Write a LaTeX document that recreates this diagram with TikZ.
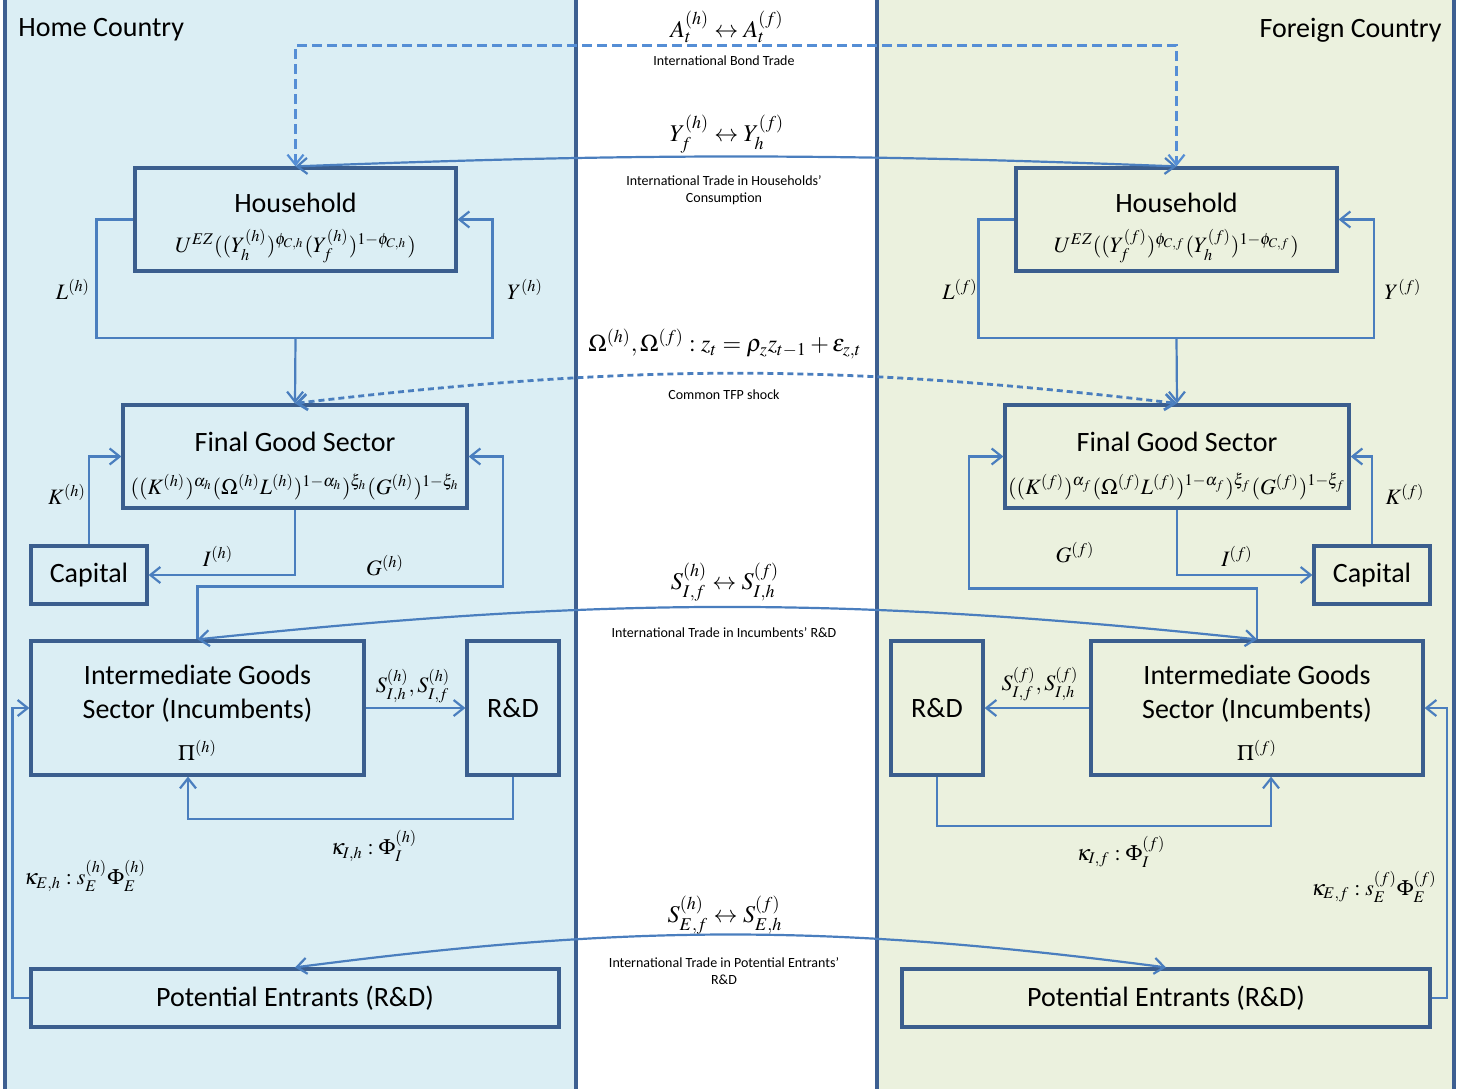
\documentclass[tikz,border=0pt]{standalone}
\usepackage{mathptmx}
\usepackage[no-math]{fontspec}
\setmainfont{Carlito}
\usetikzlibrary{arrows.meta}
\definecolor{homebg}{RGB}{219,238,244}
\definecolor{forbg}{RGB}{235,241,222}
\definecolor{panelline}{RGB}{61,95,145}
\definecolor{boxline}{RGB}{59,94,142}
\definecolor{flowline}{RGB}{74,126,190}
\definecolor{bondline}{RGB}{85,142,213}
\tikzstyle{panel}=[draw=panelline, line width=1.8pt]
\tikzstyle{sector}=[draw=boxline, line width=1.6pt, inner sep=0pt, align=center, font=\fontsize{14}{17}\selectfont]
\tikzstyle{flow}=[draw=flowline, line width=1.1pt, -{Straight Barb[length=5pt, width=8pt]}]
\tikzstyle{trade}=[flow, {Straight Barb[length=5pt, width=8pt]}-{Straight Barb[length=5pt, width=8pt]}]
\tikzstyle{mlabel}=[inner sep=0pt, font=\fontsize{11}{13}\selectfont]
\tikzstyle{tradeeq}=[inner sep=0pt, font=\fontsize{12}{14}\selectfont]
\tikzstyle{tlabel}=[inner sep=0pt, align=center, font=\fontsize{7}{8.5}\selectfont]
\tikzstyle{country}=[inner sep=0pt, font=\fontsize{14}{17}\selectfont]

\begin{document}
\begin{tikzpicture}[x=0.5pt, y=-0.5pt]
        \useasboundingbox (0,0) rectangle (1478,1088);
        \fill[homebg] (5,-10) rectangle (576,1098);
        \fill[forbg] (877,-10) rectangle (1454,1098);
        \draw[panel] (5,-10) rectangle (576,1098);
        \draw[panel] (877,-10) rectangle (1454,1098);
        \node[country, anchor=west] (homename) at (18,30) {Home Country};
        \node[country, anchor=east] (forname) at (1442,30) {Foreign Country};

        \node[sector, minimum width=160.5pt, minimum height=51.5pt] (hhh) at (295.5,219.5) {\rule{0pt}{18.5pt}Household\\[3pt] {\fontsize{11}{13}\selectfont$U^{EZ}((Y_h^{(h)})^{\phi_{C,h}}(Y_f^{(h)})^{1-\phi_{C,h}})$}};
        \node[sector, minimum width=160.5pt, minimum height=51.5pt] (fhh) at (1176.5,219.5) {\rule{0pt}{18.5pt}Household\\[3pt] {\fontsize{11}{13}\selectfont$U^{EZ}((Y_f^{(f)})^{\phi_{C,f}}(Y_h^{(f)})^{1-\phi_{C,f}})$}};
        \node[sector, minimum width=172pt, minimum height=51.5pt] (hfin) at (295,456.5) {\rule{0pt}{19pt}Final Good Sector\\[4.5pt] {\fontsize{11}{13}\selectfont$((K^{(h)})^{\alpha_h}(\Omega^{(h)}L^{(h)})^{1-\alpha_h})^{\xi_h}(G^{(h)})^{1-\xi_h}$}};
        \node[sector, minimum width=172pt, minimum height=51.5pt] (ffin) at (1177,456.5) {\rule{0pt}{19pt}Final Good Sector\\[4.5pt] {\fontsize{11}{13}\selectfont$((K^{(f)})^{\alpha_f}(\Omega^{(f)}L^{(f)})^{1-\alpha_f})^{\xi_f}(G^{(f)})^{1-\xi_f}$}};
        \node[sector, minimum width=58pt, minimum height=29pt] (hcap) at (89,575) {Capital};
        \node[sector, minimum width=58pt, minimum height=29pt] (fcap) at (1372,575) {Capital};
        \node[sector, minimum width=166.5pt, minimum height=67pt] (him) at (197.5,708) {\rule{0pt}{14.9pt}Intermediate Goods\\ \strut Sector (Incumbents)\\[4pt] {\fontsize{11}{13}\selectfont$\Pi^{(h)}$}};
        \node[sector, minimum width=166pt, minimum height=67pt] (fim) at (1257,708) {\rule{0pt}{14.9pt}Intermediate Goods\\ \strut Sector (Incumbents)\\[4pt] {\fontsize{11}{13}\selectfont$\Pi^{(f)}$}};
        \node[sector, minimum width=46pt, minimum height=67pt] (hrd) at (513,708) {R\&D};
        \node[sector, minimum width=46pt, minimum height=67pt] (frd) at (937,708) {R\&D};
        \node[sector, minimum width=264pt, minimum height=29pt] (hpe) at (295,998) {Potential Entrants (R\&D)};
        \node[sector, minimum width=264pt, minimum height=29pt] (fpe) at (1166,998) {Potential Entrants (R\&D)};

        \coordinate (hloop) at (295.5,338);
        \coordinate (floop) at (1176.5,338);
        \draw[flow, -] (hhh.west) -- ++(-37,0) |- (hloop);
        \draw[flow] (hloop) -- ++(197,0) |- (hhh.east);
        \draw[flow] (hloop) -- (hfin.north);
        \draw[flow, -] (fhh.west) -- ++(-36,0) |- (floop);
        \draw[flow] (floop) -- ++(197.5,0) |- (fhh.east);
        \draw[flow] (floop) -- (ffin.north);

        \draw[flow] (hcap.north) |- (hfin.west);
        \draw[flow] (hfin.south) |- (hcap.east);
        \draw[flow] (him.north) |- ++(305.5,-53) |- (hfin.east);
        \draw[flow] (him.east) -- (hrd.west);
        \draw[flow] (hrd.south) -- ++(0,42) -| ([xshift=-4.75pt]him.south);
        \draw[flow] (hpe.west) -- ++(-17,0) |- (him.west);

        \draw[flow] (fcap.north) |- (ffin.east);
        \draw[flow] (ffin.south) |- (fcap.west);
        \draw[flow] (fim.north) |- ++(-288,-51) |- (ffin.west);
        \draw[flow] (fim.west) -- (frd.east);
        \draw[flow] (frd.south) -- ++(0,49) -| ([xshift=7pt]fim.south);
        \draw[flow] (fpe.east) -- ++(15,0) |- (fim.east);

        \draw[trade, draw=bondline, line width=1.1pt, dash pattern=on 5pt off 2.5pt] (hhh.north) -- ++(0,-121) -| (fhh.north);
        \draw[trade] (hhh.north) to[bend left=2.2] (fhh.north);
        \draw[trade, line width=1.4pt, dash pattern=on 3pt off 2pt] (hfin.north) to[bend left=6.7] (ffin.north);
        \draw[trade] (him.north) to[bend left=6] (fim.north);
        \draw[trade] (hpe.north) to[bend left=7.4] (fpe.north);

        \node[tradeeq] (bondeq) at (727,27) {$A_t^{(h)}\leftrightarrow A_t^{(f)}$};
        \node[tlabel] (bondtxt) at (724,61) {International Bond Trade};
        \node[tradeeq] (conseq) at (727,134) {$Y_f^{(h)}\leftrightarrow Y_h^{(f)}$};
        \node[tlabel] (constxt) at (724,190) {International Trade in Households’\\Consumption};
        \node[tradeeq] (tfpeq) at (725,344) {$\Omega^{(h)},\Omega^{(f)}: z_t=\rho_z z_{t-1}+\varepsilon_{z,t}$};
        \node[tlabel] (tfptxt) at (724,395) {Common TFP shock};
        \node[tradeeq] (inceq) at (725,582) {$S_{I,f}^{(h)}\leftrightarrow S_{I,h}^{(f)}$};
        \node[tlabel] (inctxt) at (724,633) {International Trade in Incumbents’ R\&D};
        \node[tradeeq] (enteq) at (725,915) {$S_{E,f}^{(h)}\leftrightarrow S_{E,h}^{(f)}$};
        \node[tlabel] (enttxt) at (724,971) {International Trade in Potential Entrants’\\R\&D};

        \node[mlabel] (hL) at (73,289) {$L^{(h)}$};
        \node[mlabel] (hY) at (525,289) {$Y^{(h)}$};
        \node[mlabel] (hK) at (67,494) {$K^{(h)}$};
        \node[mlabel] (hI) at (218,556) {$I^{(h)}$};
        \node[mlabel] (hG) at (385,566) {$G^{(h)}$};
        \node[mlabel] (hS) at (413,686) {$S_{I,h}^{(h)},S_{I,f}^{(h)}$};
        \node[mlabel] (hkI) at (374,846) {$\kappa_{I,h}:\Phi_I^{(h)}$};
        \node[mlabel] (hkE) at (85,876) {$\kappa_{E,h}:s_E^{(h)}\Phi_E^{(h)}$};

        \node[mlabel] (fL) at (960,289) {$L^{(f)}$};
        \node[mlabel] (fY) at (1403,289) {$Y^{(f)}$};
        \node[mlabel] (fK) at (1405,494) {$K^{(f)}$};
        \node[mlabel] (fG) at (1075,553) {$G^{(f)}$};
        \node[mlabel] (fI) at (1237,556) {$I^{(f)}$};
        \node[mlabel] (fS) at (1040,684) {$S_{I,f}^{(f)},S_{I,h}^{(f)}$};
        \node[mlabel] (fkI) at (1121,852) {$\kappa_{I,f}:\Phi_I^{(f)}$};
        \node[mlabel] (fkE) at (1374,887) {$\kappa_{E,f}:s_E^{(f)}\Phi_E^{(f)}$};
    \end{tikzpicture}
\end{document}
